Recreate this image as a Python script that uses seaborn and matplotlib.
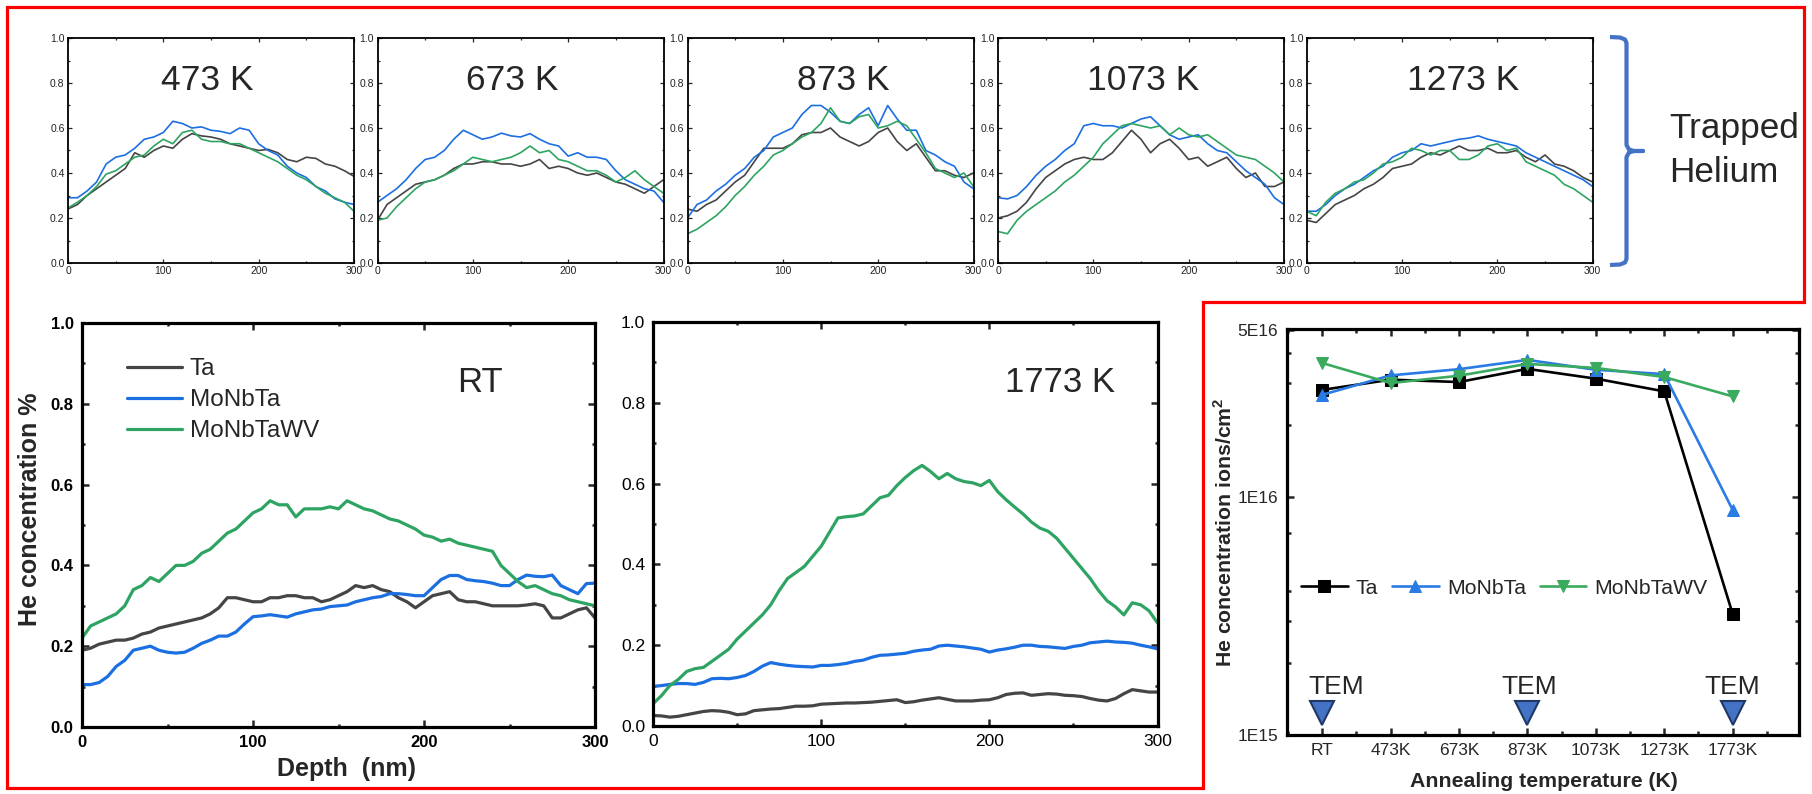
import numpy as np
import pandas as pd
import matplotlib
matplotlib.use("Agg")
import matplotlib.pyplot as plt
import seaborn as sns
from matplotlib.patches import Polygon
from matplotlib.lines import Line2D
from matplotlib.ticker import (MultipleLocator, FixedLocator, LogLocator,
                               NullFormatter, FuncFormatter)

# ---------------------------------------------------------------- data
samples = ["Ta", "MoNbTa", "MoNbTaWV"]
depth_small = list(range(0, 301, 10))
depth_large = list(range(0, 301, 5))

# He depth profiles after annealing (concentration %, small panels)
ta_473 = [0.24, 0.26, 0.30, 0.33, 0.36, 0.39, 0.42, 0.49, 0.47, 0.50, 0.52, 0.51, 0.55, 0.575, 0.565, 0.56,
          0.55, 0.53, 0.52, 0.51, 0.50, 0.505, 0.49, 0.46, 0.45, 0.47, 0.465, 0.44, 0.43, 0.41, 0.385]
monbta_473 = [0.29, 0.29, 0.32, 0.36, 0.44, 0.47, 0.48, 0.51, 0.55, 0.56, 0.58, 0.63, 0.62, 0.60, 0.605, 0.59,
              0.585, 0.575, 0.60, 0.59, 0.53, 0.50, 0.48, 0.43, 0.40, 0.38, 0.34, 0.32, 0.285, 0.27, 0.26]
monbtawv_473 = [0.245, 0.27, 0.30, 0.34, 0.395, 0.41, 0.44, 0.47, 0.48, 0.52, 0.55, 0.53, 0.58, 0.59, 0.55, 0.54,
                0.54, 0.53, 0.53, 0.51, 0.49, 0.47, 0.45, 0.42, 0.39, 0.37, 0.34, 0.31, 0.29, 0.27, 0.23]

ta_673 = [0.19, 0.26, 0.29, 0.32, 0.35, 0.36, 0.37, 0.39, 0.42, 0.44, 0.44, 0.45, 0.45, 0.44, 0.44, 0.43,
          0.44, 0.46, 0.42, 0.43, 0.42, 0.40, 0.39, 0.40, 0.38, 0.36, 0.35, 0.33, 0.31, 0.34, 0.37]
monbta_673 = [0.27, 0.30, 0.33, 0.37, 0.42, 0.46, 0.47, 0.50, 0.55, 0.59, 0.57, 0.55, 0.56, 0.577, 0.565, 0.56,
              0.575, 0.55, 0.53, 0.52, 0.475, 0.49, 0.47, 0.47, 0.46, 0.41, 0.37, 0.35, 0.33, 0.32, 0.27]
monbtawv_673 = [0.19, 0.20, 0.25, 0.29, 0.33, 0.36, 0.37, 0.39, 0.41, 0.44, 0.47, 0.46, 0.45, 0.46, 0.47, 0.49,
                0.52, 0.49, 0.50, 0.46, 0.45, 0.43, 0.41, 0.41, 0.39, 0.36, 0.38, 0.41, 0.37, 0.34, 0.31]

ta_873 = [0.24, 0.23, 0.26, 0.28, 0.32, 0.36, 0.39, 0.45, 0.51, 0.51, 0.51, 0.53, 0.57, 0.58, 0.58, 0.60,
          0.56, 0.54, 0.52, 0.54, 0.58, 0.60, 0.54, 0.50, 0.53, 0.47, 0.41, 0.41, 0.39, 0.38, 0.40]
monbta_873 = [0.20, 0.26, 0.28, 0.32, 0.35, 0.39, 0.42, 0.47, 0.50, 0.56, 0.58, 0.60, 0.66, 0.70, 0.70, 0.67,
              0.63, 0.62, 0.66, 0.69, 0.61, 0.70, 0.64, 0.59, 0.59, 0.50, 0.48, 0.45, 0.43, 0.36, 0.33]
monbtawv_873 = [0.13, 0.15, 0.18, 0.21, 0.25, 0.30, 0.34, 0.39, 0.43, 0.48, 0.50, 0.53, 0.56, 0.58, 0.62, 0.69,
                0.63, 0.62, 0.65, 0.66, 0.60, 0.61, 0.63, 0.61, 0.55, 0.49, 0.42, 0.40, 0.38, 0.40, 0.34]

ta_1073 = [0.20, 0.21, 0.23, 0.27, 0.33, 0.38, 0.41, 0.44, 0.46, 0.47, 0.46, 0.46, 0.49, 0.54, 0.59, 0.55,
           0.49, 0.53, 0.55, 0.51, 0.46, 0.47, 0.43, 0.45, 0.47, 0.42, 0.38, 0.40, 0.34, 0.34, 0.36]
monbta_1073 = [0.29, 0.285, 0.30, 0.34, 0.39, 0.43, 0.46, 0.50, 0.53, 0.61, 0.62, 0.61, 0.61, 0.60, 0.62, 0.64,
               0.65, 0.61, 0.57, 0.55, 0.56, 0.57, 0.53, 0.50, 0.49, 0.45, 0.41, 0.38, 0.35, 0.29, 0.26]
monbtawv_1073 = [0.14, 0.13, 0.19, 0.23, 0.26, 0.29, 0.32, 0.36, 0.39, 0.43, 0.47, 0.53, 0.57, 0.61, 0.62, 0.61,
                 0.60, 0.61, 0.57, 0.60, 0.57, 0.56, 0.57, 0.54, 0.51, 0.48, 0.47, 0.46, 0.43, 0.40, 0.36]

ta_1273 = [0.19, 0.18, 0.22, 0.26, 0.28, 0.30, 0.33, 0.35, 0.38, 0.42, 0.43, 0.44, 0.47, 0.49, 0.48, 0.50,
           0.52, 0.50, 0.50, 0.51, 0.49, 0.49, 0.50, 0.47, 0.45, 0.48, 0.44, 0.43, 0.41, 0.38, 0.36]
monbta_1273 = [0.23, 0.23, 0.26, 0.30, 0.33, 0.35, 0.38, 0.41, 0.43, 0.47, 0.49, 0.50, 0.53, 0.52, 0.53, 0.54,
               0.55, 0.555, 0.565, 0.55, 0.54, 0.53, 0.52, 0.49, 0.47, 0.45, 0.43, 0.41, 0.39, 0.37, 0.34]
monbtawv_1273 = [0.23, 0.21, 0.27, 0.31, 0.33, 0.36, 0.37, 0.40, 0.44, 0.45, 0.47, 0.51, 0.50, 0.48, 0.50, 0.50,
                 0.46, 0.46, 0.48, 0.52, 0.53, 0.50, 0.51, 0.45, 0.43, 0.41, 0.39, 0.35, 0.33, 0.30, 0.27]

# As-implanted (RT) and 1773 K profiles (large panels)
ta_rt = [0.19, 0.195, 0.205, 0.21, 0.215, 0.215, 0.22, 0.23, 0.235, 0.245,
         0.25, 0.255, 0.26, 0.265, 0.27, 0.28, 0.295, 0.32, 0.32, 0.315,
         0.31, 0.31, 0.32, 0.32, 0.325, 0.325, 0.32, 0.32, 0.31, 0.315,
         0.325, 0.335, 0.35, 0.345, 0.35, 0.34, 0.335, 0.32, 0.31, 0.295,
         0.31, 0.325, 0.33, 0.335, 0.315, 0.31, 0.31, 0.305, 0.30, 0.30,
         0.30, 0.30, 0.302, 0.305, 0.30, 0.27, 0.27, 0.28, 0.29, 0.295, 0.27]
monbta_rt = [0.105, 0.105, 0.11, 0.125, 0.15, 0.165, 0.19, 0.195, 0.20, 0.19,
             0.185, 0.183, 0.185, 0.195, 0.207, 0.215, 0.225, 0.225, 0.235, 0.255,
             0.273, 0.275, 0.278, 0.275, 0.272, 0.28, 0.285, 0.29, 0.292, 0.298,
             0.30, 0.302, 0.31, 0.315, 0.32, 0.323, 0.33, 0.33, 0.328, 0.325,
             0.325, 0.345, 0.365, 0.375, 0.375, 0.365, 0.362, 0.36, 0.356, 0.35,
             0.35, 0.365, 0.376, 0.373, 0.372, 0.376, 0.35, 0.34, 0.33, 0.355, 0.356]
monbtawv_rt = [0.22, 0.25, 0.26, 0.27, 0.28, 0.30, 0.34, 0.35, 0.37, 0.36,
               0.38, 0.40, 0.40, 0.41, 0.43, 0.44, 0.46, 0.48, 0.49, 0.51,
               0.53, 0.54, 0.56, 0.55, 0.55, 0.52, 0.54, 0.54, 0.54, 0.545,
               0.54, 0.56, 0.55, 0.54, 0.535, 0.525, 0.515, 0.51, 0.50, 0.49,
               0.475, 0.47, 0.46, 0.465, 0.455, 0.45, 0.445, 0.44, 0.435, 0.40,
               0.38, 0.36, 0.345, 0.35, 0.34, 0.33, 0.325, 0.315, 0.31, 0.305, 0.30]

ta_1773 = [0.026, 0.025, 0.022, 0.024, 0.028, 0.032, 0.036, 0.038, 0.037, 0.034,
           0.028, 0.030, 0.038, 0.040, 0.042, 0.043, 0.046, 0.049, 0.049, 0.050,
           0.054, 0.055, 0.056, 0.057, 0.057, 0.058, 0.059, 0.061, 0.063, 0.065,
           0.058, 0.060, 0.064, 0.067, 0.070, 0.066, 0.062, 0.062, 0.062, 0.064,
           0.065, 0.070, 0.078, 0.081, 0.082, 0.076, 0.078, 0.080, 0.079, 0.076,
           0.075, 0.073, 0.068, 0.064, 0.062, 0.068, 0.080, 0.090, 0.087, 0.084, 0.084]
monbta_1773 = [0.098, 0.10, 0.103, 0.105, 0.105, 0.103, 0.108, 0.117, 0.118, 0.117,
               0.12, 0.125, 0.135, 0.148, 0.157, 0.153, 0.15, 0.148, 0.147, 0.146,
               0.15, 0.15, 0.152, 0.155, 0.16, 0.163, 0.17, 0.175, 0.176, 0.178,
               0.18, 0.185, 0.188, 0.19, 0.198, 0.20, 0.198, 0.196, 0.193, 0.19,
               0.183, 0.188, 0.191, 0.195, 0.20, 0.20, 0.197, 0.196, 0.194, 0.192,
               0.197, 0.20, 0.206, 0.208, 0.21, 0.208, 0.207, 0.205, 0.20, 0.196, 0.191]
monbtawv_1773 = [0.055, 0.075, 0.10, 0.115, 0.135, 0.142, 0.145, 0.16, 0.175, 0.19,
                 0.215, 0.235, 0.255, 0.275, 0.30, 0.335, 0.365, 0.38, 0.395, 0.42,
                 0.445, 0.48, 0.515, 0.518, 0.52, 0.525, 0.545, 0.565, 0.571, 0.595,
                 0.615, 0.632, 0.645, 0.63, 0.612, 0.625, 0.612, 0.605, 0.602, 0.595,
                 0.608, 0.58, 0.56, 0.542, 0.525, 0.505, 0.49, 0.482, 0.465, 0.44,
                 0.415, 0.39, 0.365, 0.335, 0.31, 0.295, 0.275, 0.305, 0.30, 0.285, 0.255]

# Retained He fluence vs annealing temperature (ions/cm^2)
anneal_labels = ["RT", "473K", "673K", "873K", "1073K", "1273K", "1773K"]
ta_total = [2.80e16, 3.09e16, 3.02e16, 3.43e16, 3.12e16, 2.76e16, 3.22e15]
monbta_total = [2.67e16, 3.22e16, 3.42e16, 3.74e16, 3.40e16, 3.26e16, 8.79e15]
monbtawv_total = [3.63e16, 2.99e16, 3.21e16, 3.60e16, 3.46e16, 3.17e16, 2.63e16]
tem_labels = ["RT", "873K", "1773K"]

small_panels = [
    ("473 K", [ta_473, monbta_473, monbtawv_473]),
    ("673 K", [ta_673, monbta_673, monbtawv_673]),
    ("873 K", [ta_873, monbta_873, monbtawv_873]),
    ("1073 K", [ta_1073, monbta_1073, monbtawv_1073]),
    ("1273 K", [ta_1273, monbta_1273, monbtawv_1273]),
]

# ---------------------------------------------------------------- style
sns.set_style("ticks")
plt.rcParams["font.family"] = ["Liberation Sans", "DejaVu Sans"]
plt.rcParams["mathtext.fontset"] = "custom"
plt.rcParams["mathtext.bf"] = "Liberation Sans:bold"
plt.rcParams["mathtext.rm"] = "Liberation Sans"

profile_colors = {"Ta": "#454545", "MoNbTa": "#1c6fe0", "MoNbTaWV": "#2ea462"}
total_colors = {"Ta": "#000000", "MoNbTa": "#2a7be4", "MoNbTaWV": "#3aaa5e"}
total_markers = {"Ta": "s", "MoNbTa": "^", "MoNbTaWV": "v"}

W, H = 1812, 794
fig = plt.figure(figsize=(W / 100, H / 100), dpi=100)


def px_axes(x0, y0, x1, y1):
    return fig.add_axes([x0 / W, 1 - y1 / H, (x1 - x0) / W, (y1 - y0) / H])


def depth_axes(ax, spine_w, tick_w, major_len, minor_len, label_size, pad, bold, label_color="black"):
    ax.set_xlim(0, 300)
    ax.set_ylim(0, 1.0)
    ax.xaxis.set_major_locator(MultipleLocator(100))
    ax.xaxis.set_minor_locator(MultipleLocator(50))
    ax.yaxis.set_major_locator(MultipleLocator(0.2))
    ax.yaxis.set_minor_locator(MultipleLocator(0.1))
    ax.yaxis.set_major_formatter(FuncFormatter(lambda v, p: f"{v:.1f}"))
    ax.tick_params(which="both", direction="in", top=True, right=True,
                   width=tick_w, labelsize=label_size, pad=pad, labelcolor=label_color)
    ax.tick_params(which="major", length=major_len)
    ax.tick_params(which="minor", length=minor_len)
    for s in ax.spines.values():
        s.set_linewidth(spine_w)
        s.set_color("black")
        s.set_visible(True)
    if bold:
        for lab in ax.get_xticklabels() + ax.get_yticklabels():
            lab.set_fontweight("bold")
    ax.set_xlabel("")
    ax.set_ylabel("")


def draw_profiles(ax, depth, series, lw):
    for name, vals in zip(samples, series):
        sns.lineplot(x=depth, y=vals, color=profile_colors[name], linewidth=lw,
                     estimator=None, legend=False, ax=ax)


# ---------------------------------------------------------------- small panels
small_left = [68, 377.5, 687.5, 998, 1306.7]
title_x = [0.488, 0.47, 0.544, 0.507, 0.547]
for left, tx, (title, series) in zip(small_left, title_x, small_panels):
    ax = px_axes(left, 38, left + 286, 263)
    draw_profiles(ax, depth_small, series, 1.2)
    depth_axes(ax, 1.3, 0.9, 3.0, 1.6, 7.5, 2.5, False, "#222222")
    ax.text(tx, 0.769, title, transform=ax.transAxes, ha="center", va="baseline", fontsize=25.5)

# ---------------------------------------------------------------- RT panel
ax_rt = px_axes(82, 323, 595, 727)
draw_profiles(ax_rt, depth_large, [ta_rt, monbta_rt, monbtawv_rt], 2.3)
depth_axes(ax_rt, 2.3, 1.8, 5.0, 2.5, 12, 6, True)
ax_rt.set_xlabel("Depth  (nm)", fontsize=18, fontweight="bold")
ax_rt.xaxis.set_label_coords(0.515, -0.075)
ax_rt.set_ylabel("He concentration %", fontsize=18, fontweight="bold")
ax_rt.yaxis.set_label_coords(-0.078, 0.54)
ax_rt.text(0.775, 0.829, "RT", transform=ax_rt.transAxes, ha="center", va="baseline", fontsize=25)
ax_rt.legend(handles=ax_rt.lines[:3], labels=samples, loc="upper left",
             bbox_to_anchor=(0.087, 0.913), frameon=False, fontsize=17.5,
             handlelength=2.26, handletextpad=0.33, labelspacing=0.37,
             borderpad=0, borderaxespad=0)

# ---------------------------------------------------------------- 1773 K panel
ax_hi = px_axes(653, 322, 1157.5, 726)
draw_profiles(ax_hi, depth_large, [ta_1773, monbta_1773, monbtawv_1773], 2.3)
depth_axes(ax_hi, 2.3, 1.8, 5.0, 2.5, 12.5, 5.5, False)
ax_hi.text(0.807, 0.827, "1773 K", transform=ax_hi.transAxes, ha="center", va="baseline", fontsize=25)

# ---------------------------------------------------------------- retained fluence panel
ax_t = px_axes(1286.6, 329, 1799, 735)
xpos = list(range(len(anneal_labels)))
for name, vals in zip(samples, [ta_total, monbta_total, monbtawv_total]):
    c = total_colors[name]
    sns.lineplot(x=xpos, y=vals, color=c, linewidth=1.9, marker=total_markers[name],
                 markersize=8 if name == "Ta" else 9, markeredgecolor=c, markerfacecolor=c,
                 estimator=None, legend=False, ax=ax_t)
ax_t.set_yscale("log")
ax_t.set_ylim(1e15, 5.04e16)
ax_t.set_xlim(-0.52, 6.97)
ax_t.yaxis.set_major_locator(FixedLocator([1e15, 1e16, 5e16]))


def sci_label(v, pos):
    e = int(np.floor(np.log10(v) + 1e-9))
    m = v / 10 ** e
    return f"{m:g}E{e}"


ax_t.yaxis.set_major_formatter(FuncFormatter(sci_label))
ax_t.yaxis.set_minor_locator(LogLocator(base=10, subs=(2, 3, 4, 7)))
ax_t.yaxis.set_minor_formatter(NullFormatter())
ax_t.set_xticks(xpos, anneal_labels)
ax_t.xaxis.set_minor_locator(FixedLocator(np.arange(-0.5, 7, 1.0)))
ax_t.tick_params(which="both", direction="in", top=True, right=True, width=1.8,
                 labelsize=12.5, pad=6)
ax_t.tick_params(which="major", length=5)
ax_t.tick_params(which="minor", length=3)
for s in ax_t.spines.values():
    s.set_linewidth(2.3)
    s.set_color("black")
ax_t.set_xlabel("Annealing temperature (K)", fontsize=15.3, fontweight="bold")
ax_t.xaxis.set_label_coords(0.503, -0.092)
ax_t.set_ylabel(r"He concentration ions/cm$^\mathbf{2}$", fontsize=15.3, fontweight="bold")
ax_t.yaxis.set_label_coords(-0.1, 0.5)
ax_t.legend(handles=ax_t.lines[:3], labels=samples, loc="center left",
            bbox_to_anchor=(0.028, 0.362), ncol=3, frameon=False, fontsize=15.3,
            handlelength=2.2, handletextpad=0.38, columnspacing=0.65,
            borderpad=0, borderaxespad=0, numpoints=1)

# TEM observation marks
tem_x = [anneal_labels.index(t) for t in tem_labels]
tem_text_dx = [0.2, 0.03, 0.0]
xt = ax_t.get_xaxis_transform()
ax_t.plot(tem_x, [0.054] * len(tem_x), linestyle="none", marker="v", markersize=17,
          markerfacecolor="#4472C4", markeredgecolor="#1F3864", markeredgewidth=1.5,
          transform=xt, clip_on=False)
for x, dx in zip(tem_x, tem_text_dx):
    ax_t.text(x + dx, 0.101, "TEM", transform=xt, ha="center", va="baseline", fontsize=19)

# ---------------------------------------------------------------- annotations
frame_pts = [(7, 6.5), (1804, 6.5), (1804, 302), (1203, 302), (1203, 788), (7, 788)]
fig.add_artist(Polygon([(x / W, 1 - y / H) for x, y in frame_pts], closed=True, fill=False,
                       edgecolor="#ff0000", linewidth=2.3, transform=fig.transFigure,
                       joinstyle="miter"))

brace_pts = [(1610, 37), (1620, 37.5), (1625, 39.5), (1626.5, 43), (1626.5, 145),
             (1629, 149.5), (1634, 151), (1643, 151), (1634, 151), (1629, 152.5),
             (1626.5, 157), (1626.5, 259), (1625, 262.5), (1620, 264.5), (1610, 265)]
fig.add_artist(Line2D([x / W for x, _ in brace_pts], [1 - y / H for _, y in brace_pts],
                      color="#4472C4", linewidth=3.0, solid_joinstyle="round",
                      solid_capstyle="butt", transform=fig.transFigure))
fig.text(1669 / W, 1 - 138 / H, "Trapped", fontsize=25.3, ha="left", va="baseline")
fig.text(1669 / W, 1 - 182 / H, "Helium", fontsize=25.3, ha="left", va="baseline")

fig.savefig("out.png", dpi=100)
